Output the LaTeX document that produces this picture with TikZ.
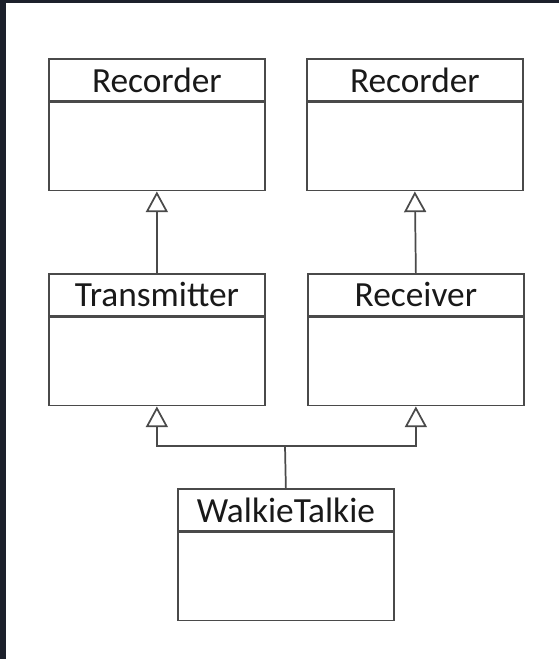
\documentclass[tikz,border=0pt]{standalone}
\usepackage{fontspec}
\setmainfont{Carlito}
\usepackage{xcolor}
\usetikzlibrary{arrows.meta}

\definecolor{frameDark}{HTML}{1C202B}
\definecolor{umlLine}{HTML}{4A4A4A}

\tikzset{
  classhead/.style={draw=umlLine, line width=1.3pt, fill=white, anchor=north west,
    minimum width=162pt, minimum height=31.5pt, inner sep=0pt,
    font=\fontsize{26.5}{30}\selectfont, text=black!90},
  classbody/.style={draw=umlLine, line width=1.3pt, fill=white, anchor=north,
    minimum width=162pt, minimum height=66pt, inner sep=0pt},
  inherit/.style={draw=umlLine, line width=1.3pt,
    -{Triangle[open, length=15.5pt, width=16.5pt, line width=1.3pt]}}
}

\begin{document}
\begin{tikzpicture}[x=0.75pt,y=0.75pt,yscale=-1,xscale=1]
%uncomment if require: \path (0,659); %set diagram left start at 0, and has height of 659

%Shape: dark frame and white sheet
\fill[frameDark] (0,0) rectangle (559,659);
\fill[white] (6,3) rectangle (559,659);

% Recorder (left)
\node[classhead] (recA) at (48,58) {Recorder};
\node[classbody] (recAb) at (recA.south) {};
% Recorder (right)
\node[classhead] (recB) at (306,58) {Recorder};
\node[classbody] (recBb) at (recB.south) {};

% Transmitter
\node[classhead] (trans) at (48,273) {Transmitter};
\node[classbody] (transb) at (trans.south) {};
% Receiver
\node[classhead] (recv) at (307,273) {Receiver};
\node[classbody] (recvb) at (recv.south) {};

% WalkieTalkie
\node[classhead] (walkie) at (177,488) {WalkieTalkie};
\node[classbody] (walkieb) at (walkie.south) {};

% generalisations
\draw[inherit] (trans.north) -- (recAb.south);
\draw[inherit] (recv.north) -- (recBb.south);
\coordinate (join) at (285,446);
\draw[draw=umlLine, line width=1.3pt] (walkie.north) -- (join);
\draw[inherit] (join) -| (transb.south);
\draw[inherit] (join) -| (recvb.south);

\end{tikzpicture}
\end{document}
